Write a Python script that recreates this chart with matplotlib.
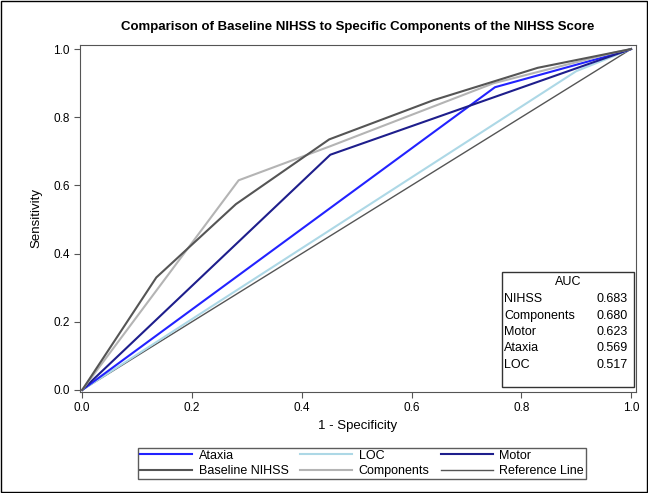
import matplotlib.pyplot as plt
from matplotlib.patches import Rectangle

plt.rcParams['font.family'] = ['Liberation Sans', 'DejaVu Sans']

# ROC points
ataxia_x = [0, 0.752, 0.97, 1.0]
ataxia_y = [0, 0.888, 0.985, 1.0]
loc_x = [0, 0.90, 1.0]
loc_y = [0, 0.935, 1.0]
motor_x = [0, 0.452, 1.0]
motor_y = [0, 0.69, 1.0]
nihss_x = [0, 0.135, 0.28, 0.45, 0.64, 0.83, 1.0]
nihss_y = [0, 0.33, 0.545, 0.735, 0.85, 0.945, 1.0]
comp_x = [0, 0.285, 0.452, 0.75, 0.97, 1.0]
comp_y = [0, 0.615, 0.715, 0.90, 0.99, 1.0]
ref_x = [0, 1]
ref_y = [0, 1]

auc_names = ["NIHSS", "Components", "Motor", "Ataxia", "LOC"]
auc_values = ["0.683", "0.680", "0.623", "0.569", "0.517"]

fig = plt.figure(figsize=(6.48, 4.93), dpi=100)
ax = fig.add_axes([0.1235, 0.2049, 0.858, 0.7039])

l_ref, = ax.plot(ref_x, ref_y, color="#555555", lw=1.0, label="Reference Line")
l_loc, = ax.plot(loc_x, loc_y, color="#add8e6", lw=1.5, label="LOC")
l_ata, = ax.plot(ataxia_x, ataxia_y, color="#2222ff", lw=1.5, label="Ataxia")
l_mot, = ax.plot(motor_x, motor_y, color="#1e1e8c", lw=1.5, label="Motor")
l_com, = ax.plot(comp_x, comp_y, color="#b4b4b4", lw=1.5, label="Components")
l_nih, = ax.plot(nihss_x, nihss_y, color="#555555", lw=1.5, label="Baseline NIHSS")

ax.set_xlim(-0.004, 1.009)
ax.set_ylim(-0.006, 1.012)
ax.set_xticks([0, 0.2, 0.4, 0.6, 0.8, 1.0])
ax.set_yticks([0, 0.2, 0.4, 0.6, 0.8, 1.0])
ax.set_xticklabels(["0.0", "0.2", "0.4", "0.6", "0.8", "1.0"])
ax.set_yticklabels(["0.0", "0.2", "0.4", "0.6", "0.8", "1.0"])
ax.tick_params(labelsize=8.5, length=4, color="#555555")
for s in ax.spines.values():
    s.set_color("#555555")
ax.set_xlabel("1 - Specificity", fontsize=9.5, labelpad=4)
ax.set_ylabel("Sensitivity", fontsize=9.5, labelpad=8)
ax.set_title("Comparison of Baseline NIHSS to Specific Components of the NIHSS Score",
             fontsize=9.5, fontweight="bold", pad=11)

# AUC inset box
ax.add_patch(Rectangle((0.759, 0.015), 0.238, 0.332, transform=ax.transAxes,
                       fill=False, edgecolor="#333333", lw=1.0))
ax.text(0.878, 0.318, "AUC", transform=ax.transAxes, ha="center", va="center", fontsize=9)
for i, (n, v) in enumerate(zip(auc_names, auc_values)):
    yy = 0.267 - i * 0.047
    ax.text(0.763, yy, n, transform=ax.transAxes, ha="left", va="center", fontsize=9)
    ax.text(0.985, yy, v, transform=ax.transAxes, ha="right", va="center", fontsize=9)

handles = [l_ata, l_nih, l_loc, l_com, l_mot, l_ref]
fig.legend(handles=handles, labels=[h.get_label() for h in handles], ncol=3,
           loc="center", bbox_to_anchor=(362 / 648, 1 - 463.5 / 493), fontsize=9,
           frameon=True, fancybox=False, edgecolor="#333333", handlelength=4.2,
           columnspacing=0.9, labelspacing=0.28, borderpad=0.15, handletextpad=0.5)

fig.patches.append(Rectangle((0.002, 0.002), 0.996, 0.996, transform=fig.transFigure,
                             fill=False, edgecolor="black", lw=1.0))

fig.savefig("out.png", dpi=100)
